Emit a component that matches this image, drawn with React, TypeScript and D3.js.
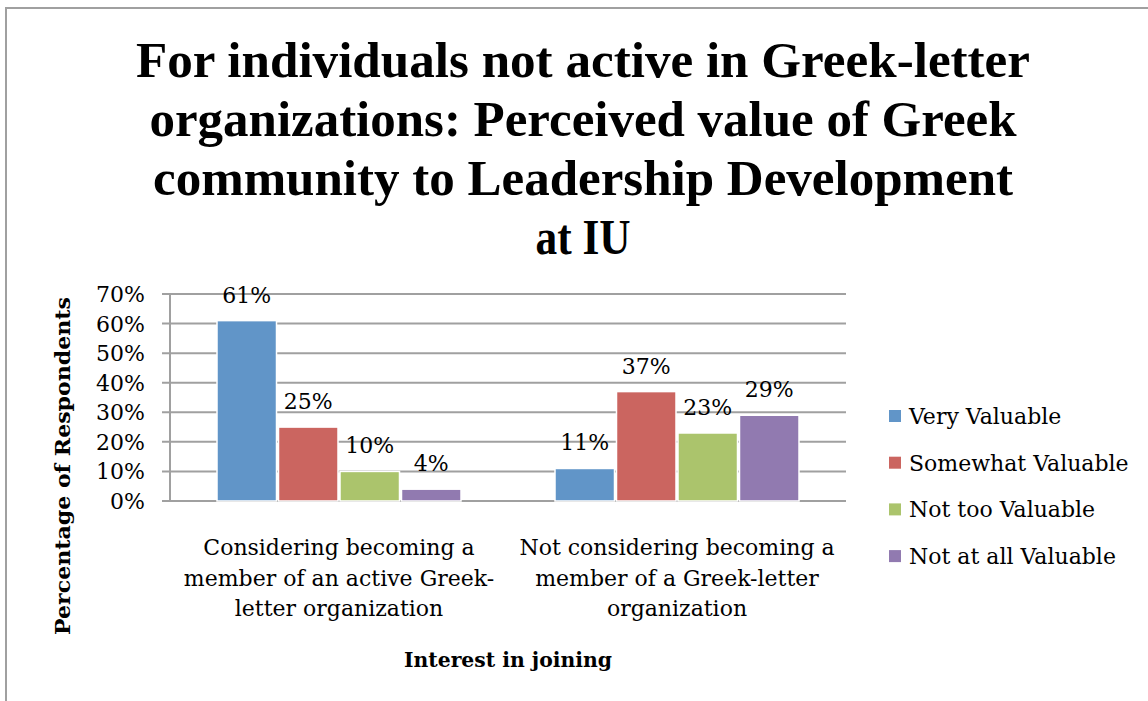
import React from "react";
import * as d3 from "d3";

const titleLines = [
  "For individuals not active in Greek-letter",
  "organizations: Perceived value of Greek",
  "community to Leadership Development",
  "at IU",
];
const categories = [
  "Considering becoming a member of an active Greek-letter organization",
  "Not considering becoming a member of a Greek-letter organization",
];
const categoryLines = [
  ["Considering becoming a", "member of an active Greek-", "letter organization"],
  ["Not considering becoming a", "member of a Greek-letter", "organization"],
];
const series = ["Very Valuable", "Somewhat Valuable", "Not too Valuable", "Not at all Valuable"];
const colors = ["#6195C8", "#CB6560", "#ABC46C", "#917AB0"];
// values per series, one per category
const veryValuable = [0.61, 0.11];
const somewhatValuable = [0.25, 0.37];
const notTooValuable = [0.1, 0.23];
const notAtAllValuable = [0.04, 0.29];
const seriesValues = [veryValuable, somewhatValuable, notTooValuable, notAtAllValuable];
const yTicks = [0, 0.1, 0.2, 0.3, 0.4, 0.5, 0.6, 0.7];
const yAxisTitle = "Percentage of Respondents";
const xAxisTitle = "Interest in joining";

const titleWidths = [894, 867, 860, 95];

export default function App() {
  const W = 1148, H = 701;
  const left = 170, right = 846, top = 294, bottom = 501;
  const x0 = d3.scaleBand<string>().domain(categories).range([left, right]);
  const bw = x0.bandwidth();
  const groupW = 246;
  const x1 = d3.scaleBand<string>().domain(series).range([(bw - groupW) / 2, (bw + groupW) / 2]);
  const y = d3.scaleLinear().domain([0, 0.7]).range([bottom, top]);
  const fmt = d3.format(".0%");
  const serif = "'DejaVu Serif', serif";
  const grid = "#A0A0A0";
  const fs = 22;

  return (
    <svg width={W} height={H} style={{ position: "absolute", left: 0, top: 0 }} fontFamily={serif}>
      <rect x={0} y={0} width={W} height={H} fill="#fff" />
      <rect x={6} y={8} width={W + 20} height={H + 20} fill="none" stroke={grid} strokeWidth={2} />
      {titleLines.map((t, i) => (
        <text
          key={i}
          x={583}
          y={77 + i * 59}
          textAnchor="middle"
          fontFamily="'Liberation Serif', serif"
          fontWeight="bold"
          fontSize={50}
          textLength={titleWidths[i]}
          lengthAdjust="spacingAndGlyphs"
          fill="#000"
        >
          {t}
        </text>
      ))}
      {yTicks.map((t) => (
        <g key={t}>
          <line x1={left - 8} x2={right} y1={y(t)} y2={y(t)} stroke={grid} strokeWidth={2} />
          <text x={145} y={y(t) + 8} textAnchor="end" fontSize={fs} fill="#000">
            {fmt(t)}
          </text>
        </g>
      ))}
      <line x1={left} x2={left} y1={top} y2={bottom} stroke={grid} strokeWidth={2} />
      {categories.map((c, ci) => (
        <g key={c} transform={`translate(${x0(c)},0)`}>
          {series.map((s, si) => {
            const v = seriesValues[si][ci];
            const bx = x1(s)!;
            return (
              <g key={s}>
                <rect
                  x={bx + 1}
                  y={y(v)}
                  width={x1.bandwidth() - 2}
                  height={bottom - y(v)}
                  fill={colors[si]}
                  stroke="#fff"
                  strokeWidth={1.5}
                />
                <text x={bx + x1.bandwidth() / 2} y={y(v) - 18} textAnchor="middle" fontSize={fs} fill="#000">
                  {fmt(v)}
                </text>
              </g>
            );
          })}
          {categoryLines[ci].map((l, li) => (
            <text key={li} x={bw / 2} y={555 + li * 30.5} textAnchor="middle" fontSize={fs} fill="#000">
              {l}
            </text>
          ))}
        </g>
      ))}
      <text
        transform={`translate(70,${(297 + 635) / 2}) rotate(-90)`}
        textAnchor="middle"
        fontWeight="bold"
        fontSize={21}
        textLength={338}
        lengthAdjust="spacingAndGlyphs"
        fill="#000"
      >
        {yAxisTitle}
      </text>
      <text x={(left + right) / 2} y={667} textAnchor="middle" fontWeight="bold" fontSize={21} textLength={208} lengthAdjust="spacingAndGlyphs" fill="#000">
        {xAxisTitle}
      </text>
      {series.map((s, i) => (
        <g key={s} transform={`translate(889,${416 + i * 46.7})`}>
          <rect x={0} y={-6} width={12} height={12} fill={colors[i]} />
          <text x={20} y={8} fontSize={fs} fill="#000">
            {s}
          </text>
        </g>
      ))}
    </svg>
  );
}
